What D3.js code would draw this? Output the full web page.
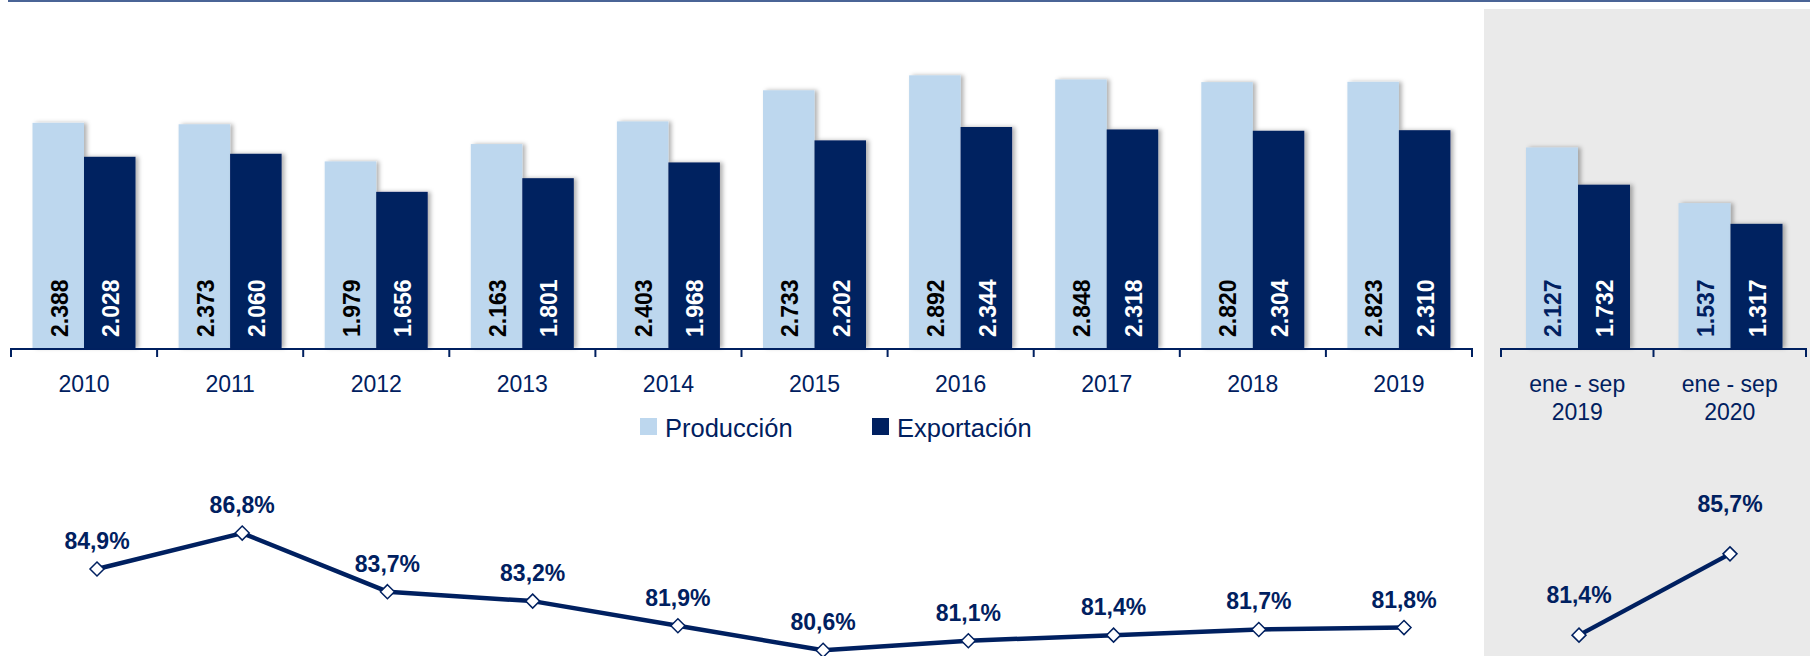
<!DOCTYPE html>
<html>
<head>
<meta charset="utf-8">
<script src="https://cdn.jsdelivr.net/npm/d3@7"></script>
<style>
    body { margin: 0; background: #fff; }
    svg { display: block; font-family: "Liberation Sans", Arial, sans-serif; }
</style>
</head>
<body>
<svg id="chart" width="1810" height="656"></svg>
<script>
// annual series
const years = ['2010', '2011', '2012', '2013', '2014', '2015', '2016', '2017', '2018', '2019'];
const produccion = [2388, 2373, 1979, 2163, 2403, 2733, 2892, 2848, 2820, 2823];
const exportacion = [2028, 2060, 1656, 1801, 1968, 2202, 2344, 2318, 2304, 2310];
const ratio = [84.9, 86.8, 83.7, 83.2, 81.9, 80.6, 81.1, 81.4, 81.7, 81.8];

// jan-sep comparison
const periods = ['ene - sep 2019', 'ene - sep 2020'];
const produccionPeriodo = [2127, 1537];
const exportacionPeriodo = [1732, 1317];
const ratioPeriodo = [81.4, 85.7];

const seriesNames = ['Producción', 'Exportación'];

const navy = '#002060';
const light = '#BDD7EE';

const es = d3.formatLocale({decimal: ',', thousands: '.', grouping: [3], currency: ['', '']});
const fmtNum = es.format(',d');
const fmtPct = d => es.format('.1f')(d) + '%';

const svg = d3.select('#chart');

// shadow for bars
const defs = svg.append('defs');
defs.append('filter')
    .attr('id', 'shadow')
    .attr('x', '-20%').attr('y', '-10%').attr('width', '150%').attr('height', '120%')
    .append('feDropShadow')
    .attr('dx', 3).attr('dy', 0)
    .attr('stdDeviation', 2)
    .attr('flood-color', '#000')
    .attr('flood-opacity', 0.3);

// gray background of the partial-year panel
svg.append('rect')
    .attr('x', 1484).attr('y', 9)
    .attr('width', 1810 - 1484).attr('height', 656 - 9)
    .attr('fill', '#EAEAEA');

// top rule
svg.append('line')
    .attr('x1', 8).attr('x2', 1810)
    .attr('y1', 1).attr('y2', 1)
    .attr('stroke', '#4a6496')
    .attr('stroke-width', 2);

const baseY = 348;
const y = d3.scaleLinear().domain([0, 3500]).range([baseY, 18]);
const yLine = d3.scaleLinear().domain([80, 90]).range([661.6, 472.6]);

function drawBars(cats, prod, exp, x0, x1, labelColors) {
    const data = cats.map((c, i) => ({cat: c, values: [prod[i], exp[i]]}));
    const bw = x0.bandwidth();

    const g = svg.append('g');
    const groups = g.selectAll('.grp')
        .data(data)
        .enter().append('g')
        .attr('class', 'grp')
        .attr('transform', d => `translate(${x0(d.cat)},0)`);

    groups.selectAll('rect')
        .data(d => d.values.map((v, j) => ({name: seriesNames[j], value: v, j: j})))
        .enter().append('rect')
        .attr('x', d => x1(d.name))
        .attr('y', d => y(d.value))
        .attr('width', x1.bandwidth())
        .attr('height', d => baseY - y(d.value))
        .attr('fill', d => d.j === 0 ? light : navy)
        .attr('filter', 'url(#shadow)');

    groups.selectAll('text')
        .data(d => d.values.map((v, j) => ({name: seriesNames[j], value: v, j: j})))
        .enter().append('text')
        .attr('transform', d => `translate(${x1(d.name) + x1.bandwidth() / 2 + 1},${baseY - 11}) rotate(-90)`)
        .attr('dy', '0.36em')
        .attr('font-size', '23px')
        .attr('font-weight', 'bold')
        .attr('fill', d => labelColors[d.j])
        .text(d => fmtNum(d.value));

    // axis baseline with boundary ticks
    const [r0, r1] = x0.range();
    const axis = svg.append('g').attr('stroke', navy).attr('stroke-width', 2);
    axis.append('line')
        .attr('x1', r0).attr('x2', r1)
        .attr('y1', baseY + 1).attr('y2', baseY + 1);
    const bounds = cats.map(c => x0(c)).concat([x0(cats[cats.length - 1]) + bw]);
    axis.selectAll('.tk')
        .data(bounds)
        .enter().append('line')
        .attr('x1', d => d).attr('x2', d => d)
        .attr('y1', baseY).attr('y2', baseY + 9);

    return g;
}

// main panel
const xMain = d3.scaleBand().domain(years).range([11, 1472]);
const xInner = d3.scaleBand().domain(seriesNames).range([21.5, 124.5]);
drawBars(years, produccion, exportacion, xMain, xInner, ['#000', '#fff']);

svg.append('g')
    .selectAll('text')
    .data(years)
    .enter().append('text')
    .attr('x', d => xMain(d) + xMain.bandwidth() / 2)
    .attr('y', 392)
    .attr('text-anchor', 'middle')
    .attr('font-size', '23px')
    .attr('fill', navy)
    .text(d => d);

// right panel
const xPer = d3.scaleBand().domain(periods).range([1501, 1806]);
const xPerInner = d3.scaleBand().domain(seriesNames).range([25, 129]);
drawBars(periods, produccionPeriodo, exportacionPeriodo, xPer, xPerInner, [navy, '#fff']);

const perLabels = svg.append('g')
    .selectAll('text')
    .data(periods)
    .enter().append('text')
    .attr('text-anchor', 'middle')
    .attr('font-size', '23px')
    .attr('fill', navy);
perLabels.each(function (d) {
    const cut = d.lastIndexOf(' ');
    const cx = xPer(d) + xPer.bandwidth() / 2;
    const t = d3.select(this);
    t.append('tspan').attr('x', cx).attr('y', 392).text(d.slice(0, cut));
    t.append('tspan').attr('x', cx).attr('y', 420).text(d.slice(cut + 1));
});

// legend
const legend = svg.append('g');
const legendItems = [
    {name: seriesNames[0], color: light, x: 640},
    {name: seriesNames[1], color: navy, x: 872}
];
legend.selectAll('rect')
    .data(legendItems)
    .enter().append('rect')
    .attr('x', d => d.x).attr('y', 418)
    .attr('width', 17).attr('height', 17)
    .attr('fill', d => d.color);
legend.selectAll('text')
    .data(legendItems)
    .enter().append('text')
    .attr('x', d => d.x + 25).attr('y', 437)
    .attr('font-size', '25.5px')
    .attr('fill', navy)
    .text(d => d.name);

// ratio lines
function drawLine(cats, vals, xs, labelOffset) {
    const pts = cats.map((c, i) => ({cat: c, value: vals[i]}));
    const g = svg.append('g');
    g.append('path')
        .datum(pts)
        .attr('fill', 'none')
        .attr('stroke', navy)
        .attr('stroke-width', 4.5)
        .attr('stroke-linejoin', 'round')
        .attr('d', d3.line().x(d => xs(d.cat)).y(d => yLine(d.value)));
    g.selectAll('path.mk')
        .data(pts)
        .enter().append('path')
        .attr('class', 'mk')
        .attr('transform', d => `translate(${xs(d.cat)},${yLine(d.value)})`)
        .attr('d', d3.symbol(d3.symbolDiamond2, 125))
        .attr('fill', '#fff')
        .attr('stroke', navy)
        .attr('stroke-width', 1.5);
    g.selectAll('text')
        .data(pts)
        .enter().append('text')
        .attr('x', d => xs(d.cat))
        .attr('y', (d, i) => yLine(d.value) - labelOffset[i])
        .attr('text-anchor', 'middle')
        .attr('font-size', '23px')
        .attr('font-weight', 'bold')
        .attr('fill', navy)
        .text(d => fmtPct(d.value));
}

const xLine = d3.scalePoint().domain(years).range([97, 1404]);
drawLine(years, ratio, xLine, years.map(() => 20));

const xLinePer = d3.scalePoint().domain(periods).range([1579, 1730]);
drawLine(periods, ratioPeriodo, xLinePer, [32, 42]);
</script>
</body>
</html>
